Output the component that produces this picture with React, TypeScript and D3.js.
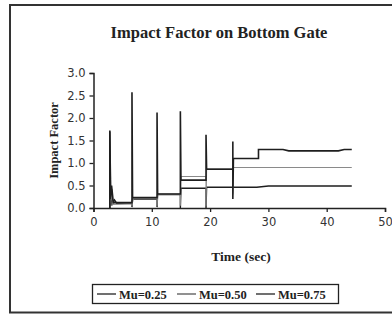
import React from "react";
import * as d3 from "d3";

// [time (sec), impact factor]
const mu025: [number, number][] = [
  [2.8, 0], [2.8, 1.7], [3.0, 0.05], [3.1, 0.42], [3.3, 0.1], [3.6, 0.18], [4.0, 0.1],
  [6.6, 0.1], [6.6, 0.02], [6.7, 0.2], [10.9, 0.2], [10.9, 0.02], [11.0, 0.3],
  [14.9, 0.3], [14.9, 0], [15.0, 0.44], [19.3, 0.44], [19.3, 0], [19.4, 0.46],
  [28.0, 0.46], [30.0, 0.49], [44.3, 0.49],
];
const mu050: [number, number][] = [
  [2.8, 0], [3.0, 0.3], [3.3, 0.08], [6.6, 0.1], [6.6, 0.05], [6.8, 0.21],
  [10.9, 0.21], [10.9, 0.05], [11.0, 0.3], [14.9, 0.3], [14.9, 0.05], [15.0, 0.7],
  [19.3, 0.7], [19.3, 0.05], [19.4, 0.87], [23.9, 0.87], [23.9, 0.3], [24.0, 0.9],
  [44.3, 0.9],
];
const mu075: [number, number][] = [
  [2.8, 0], [2.8, 1.72], [2.9, 0.2], [3.1, 0.5], [3.4, 0.12], [6.6, 0.12], [6.6, 2.57],
  [6.7, 0.23], [10.9, 0.23], [10.9, 2.12], [11.0, 0.31], [14.9, 0.31], [14.9, 2.15],
  [15.0, 0.62], [19.3, 0.62], [19.3, 1.63], [19.4, 0.86], [23.9, 0.86], [23.9, 1.48],
  [23.9, 0.2], [24.0, 1.1], [28.3, 1.1], [28.3, 1.3], [32.5, 1.3], [33.5, 1.27],
  [42.0, 1.27], [43.0, 1.3], [44.3, 1.3],
];

const seriesNames = ["Mu=0.25", "Mu=0.50", "Mu=0.75"];
const seriesData = [mu025, mu050, mu075];
const seriesColors = ["#1e1e1e", "#8a8a8a", "#1e1e1e"];
const seriesWidths = [1.4, 1.1, 1.6];

const xTicks = [0, 10, 20, 30, 40, 50];
const yTicks = [0, 0.5, 1.0, 1.5, 2.0, 2.5, 3.0];

export default function App() {
  const ref = React.useRef<SVGSVGElement>(null);

  React.useEffect(() => {
    const svg = d3.select(ref.current);
    svg.selectAll("*").remove();

    const x = d3.scaleLinear().domain([0, 50]).range([93.5, 385]);
    const y = d3.scaleLinear().domain([0, 3]).range([208, 73]);

    // outer frame
    svg.append("rect")
      .attr("x", 10).attr("y", 5).attr("width", 390).attr("height", 307.5)
      .attr("fill", "white").attr("stroke", "#333").attr("stroke-width", 2);

    svg.append("text")
      .attr("x", 219).attr("y", 38)
      .attr("text-anchor", "middle")
      .attr("font-family", "Liberation Serif, serif")
      .attr("font-weight", "bold")
      .attr("font-size", 16.5)
      .attr("fill", "#222")
      .text("Impact Factor on Bottom Gate");

    const line = d3.line<[number, number]>()
      .x(d => x(d[0]))
      .y(d => y(d[1]));

    seriesData.forEach((data, i) => {
      svg.append("path")
        .datum(data)
        .attr("d", line)
        .attr("fill", "none")
        .attr("stroke", seriesColors[i])
        .attr("stroke-width", seriesWidths[i]);
    });

    // axes
    const xAxis = svg.append("g")
      .attr("transform", `translate(0,${y(0)})`)
      .call(d3.axisBottom(x).tickValues(xTicks).tickSize(4).tickPadding(6).tickFormat(d3.format("d")));
    const yAxis = svg.append("g")
      .attr("transform", `translate(${x(0)},0)`)
      .call(d3.axisLeft(y).tickValues(yTicks).tickSize(4).tickPadding(4).tickFormat(d3.format(".1f")));

    [xAxis, yAxis].forEach(g => {
      g.select(".domain").attr("stroke", "#222").attr("stroke-width", 1.5);
      g.selectAll("line").attr("stroke", "#222").attr("stroke-width", 1.3);
      g.selectAll("text")
        .attr("font-family", "DejaVu Sans, sans-serif")
        .attr("font-size", 11.5)
        .attr("fill", "#333");
    });

    svg.append("text")
      .attr("transform", `translate(58,${(y(0) + y(3)) / 2}) rotate(-90)`)
      .attr("text-anchor", "middle")
      .attr("font-family", "Liberation Serif, serif")
      .attr("font-weight", "bold")
      .attr("font-size", 12.5)
      .attr("fill", "#222")
      .text("Impact Factor");

    svg.append("text")
      .attr("x", 241).attr("y", 261)
      .attr("text-anchor", "middle")
      .attr("font-family", "Liberation Serif, serif")
      .attr("font-weight", "bold")
      .attr("font-size", 13.5)
      .attr("fill", "#222")
      .text("Time (sec)");

    // legend
    svg.append("rect")
      .attr("x", 92.5).attr("y", 284.5).attr("width", 246).attr("height", 19)
      .attr("fill", "white").attr("stroke", "#222").attr("stroke-width", 1.3);

    const legendX = [97, 177, 256];
    seriesNames.forEach((name, i) => {
      const g = svg.append("g").attr("transform", `translate(${legendX[i]},294)`);
      g.append("line")
        .attr("x1", 0).attr("x2", 19).attr("y1", 0).attr("y2", 0)
        .attr("stroke", seriesColors[i] === "#8a8a8a" ? "#555" : "#222")
        .attr("stroke-width", 1.3);
      g.append("text")
        .attr("x", 22).attr("y", 4.5)
        .attr("font-family", "Liberation Serif, serif")
        .attr("font-weight", "bold")
        .attr("font-size", 12.5)
        .attr("fill", "#222")
        .text(name);
    });
  }, []);

  return (
    <svg
      ref={ref}
      width={392}
      height={314}
      style={{ position: "absolute", left: 0, top: 0, background: "white" }}
    />
  );
}
